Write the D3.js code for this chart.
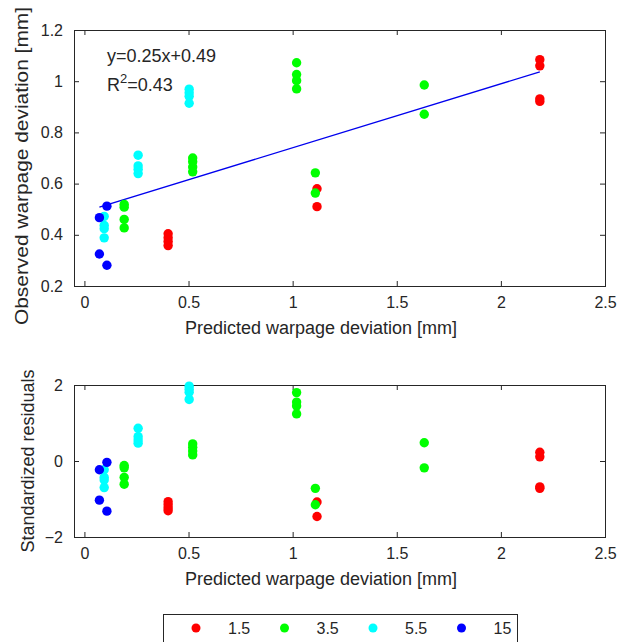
<!DOCTYPE html>
<html>
<head>
<meta charset="utf-8">
<script src="https://cdn.jsdelivr.net/npm/d3@7"></script>
<style>
  body { margin: 0; background: #fff; }
  svg { display: block; font-family: "Liberation Sans", Arial, sans-serif; }
  .axis path, .axis line { stroke: #262626; }
  .axis text { fill: #262626; font-size: 16px; font-family: "Liberation Sans", Arial, sans-serif; }
  .lbl { fill: #262626; font-size: 18px; }
</style>
</head>
<body>
<div id="chart"></div>
<script>
// --- data ---
const groups = ["1.5", "3.5", "5.5", "15"];
const groupColors = ["#ff0000", "#00ff00", "#00ffff", "#0000ff"];

// one entry per point: group index, predicted, observed, standardized residual
const grp = [
  0, 0, 0, 0, 0, 0, 0, 0, 0, 0,
  1, 1, 1, 1, 1, 1, 1, 1, 1, 1, 1, 1, 1, 1, 1, 1,
  2, 2, 2, 2, 2, 2, 2, 2, 2, 2, 2, 2,
  3, 3, 3, 3
];
const predicted = [
  0.402, 0.402, 0.402, 0.402, 1.117, 1.117, 2.187, 2.187, 2.187, 2.187,
  0.191, 0.191, 0.191, 0.191, 0.52, 0.52, 0.52, 0.52, 1.019, 1.019, 1.019, 1.019, 1.109, 1.109, 1.632, 1.632,
  0.095, 0.095, 0.095, 0.095, 0.258, 0.258, 0.258, 0.258, 0.503, 0.503, 0.503, 0.503,
  0.072, 0.072, 0.108, 0.108
];
const observed = [
  0.404, 0.388, 0.374, 0.358, 0.58, 0.51, 1.084, 1.06, 0.931, 0.921,
  0.519, 0.508, 0.46, 0.427, 0.70, 0.685, 0.665, 0.646, 1.072, 1.026, 1.002, 0.970, 0.642, 0.563, 0.985, 0.871,
  0.472, 0.437, 0.424, 0.388, 0.711, 0.669, 0.656, 0.639, 0.969, 0.955, 0.941, 0.914,
  0.467, 0.325, 0.512, 0.281
];
const residual = [
  -1.07, -1.15, -1.23, -1.31, -1.08, -1.46, 0.23, 0.11, -0.68, -0.72,
  -0.12, -0.18, -0.43, -0.61, 0.45, 0.36, 0.26, 0.16, 1.8, 1.55, 1.45, 1.24, -0.72, -1.15, 0.48, -0.18,
  -0.23, -0.43, -0.5, -0.7, 0.86, 0.64, 0.55, 0.47, 1.97, 1.89, 1.81, 1.62,
  -0.23, -1.03, -0.035, -1.32
];

const fitSlope = 0.25, fitIntercept = 0.49;
const xTicks = [0, 0.5, 1, 1.5, 2, 2.5];
const yTicksTop = [0.2, 0.4, 0.6, 0.8, 1, 1.2];
const yTicksBottom = [-2, 0, 2];

const points = predicted.map((p, i) => ({ g: grp[i], x: p, obs: observed[i], res: residual[i] }));

// --- layout ---
const W = 631, H = 642;
const left = 74, right = 605;
const top1 = { y0: 30, y1: 286 };
const bot1 = { y0: 385, y1: 537 };

const svg = d3.select("#chart").append("svg").attr("width", W).attr("height", H);

const x = d3.scaleLinear().domain([-0.05, 2.5]).range([left, right]);
const yTop = d3.scaleLinear().domain([0.2, 1.2]).range([top1.y1, top1.y0]);
const yBot = d3.scaleLinear().domain([-2, 2]).range([bot1.y1, bot1.y0]);

function drawFrame(y, box, yTicks) {
  const tk = 5;
  // bottom axis (ticks inward)
  const gx = svg.append("g").attr("class", "axis")
    .attr("transform", `translate(0,${box.y1})`)
    .call(d3.axisBottom(x).tickValues(xTicks).tickFormat(d3.format("")).tickSizeInner(-tk).tickSizeOuter(0).tickPadding(11));
  gx.select(".domain").remove();
  // top ticks
  svg.append("g").attr("class", "axis")
    .attr("transform", `translate(0,${box.y0})`)
    .call(d3.axisTop(x).tickValues(xTicks).tickFormat("").tickSizeInner(-tk).tickSizeOuter(0))
    .select(".domain").remove();
  // left axis
  const gy = svg.append("g").attr("class", "axis")
    .attr("transform", `translate(${left},0)`)
    .call(d3.axisLeft(y).tickValues(yTicks).tickFormat(d3.format("")).tickSizeInner(-tk).tickSizeOuter(0).tickPadding(11));
  gy.select(".domain").remove();
  // right ticks
  svg.append("g").attr("class", "axis")
    .attr("transform", `translate(${right},0)`)
    .call(d3.axisRight(y).tickValues(yTicks).tickFormat("").tickSizeInner(-tk).tickSizeOuter(0))
    .select(".domain").remove();
  svg.selectAll(".axis line").attr("stroke", "#262626");
  // box
  svg.append("rect")
    .attr("x", left + 0.5).attr("y", box.y0 + 0.5)
    .attr("width", right - left).attr("height", box.y1 - box.y0)
    .attr("fill", "none").attr("stroke", "#262626").attr("stroke-width", 1);
}

// --- top panel ---
drawFrame(yTop, top1, yTicksTop);

const xMin = d3.min(predicted), xMax = d3.max(predicted);
svg.append("line")
  .attr("x1", x(xMin)).attr("y1", yTop(fitSlope * xMin + fitIntercept))
  .attr("x2", x(xMax)).attr("y2", yTop(fitSlope * xMax + fitIntercept))
  .attr("stroke", "#0000ee").attr("stroke-width", 1.3);

svg.append("g").selectAll("circle")
  .data(points).enter().append("circle")
  .attr("cx", d => x(d.x)).attr("cy", d => yTop(d.obs))
  .attr("r", 4.7).attr("fill", d => groupColors[d.g]);

svg.append("text").attr("class", "lbl").attr("x", 107).attr("y", 62)
  .text(`y=${fitSlope}x+${fitIntercept}`);
const r2 = svg.append("text").attr("class", "lbl").attr("x", 107).attr("y", 91);
r2.append("tspan").text("R");
r2.append("tspan").attr("dy", -8).style("font-size", "13px").text("2");
r2.append("tspan").attr("dy", 8).text("=0.43");

svg.append("text").attr("class", "lbl").attr("text-anchor", "middle")
  .attr("x", 321).attr("y", 334)
  .text("Predicted warpage deviation [mm]");
svg.append("text").attr("class", "lbl").attr("text-anchor", "middle")
  .attr("transform", `translate(28,${(top1.y0 + top1.y1) / 2 + 8}) rotate(-90)`)
  .attr("textLength", 318).attr("lengthAdjust", "spacingAndGlyphs")
  .text("Observed warpage deviation [mm]");

// --- bottom panel ---
drawFrame(yBot, bot1, yTicksBottom);

svg.append("g").selectAll("circle")
  .data(points).enter().append("circle")
  .attr("cx", d => x(d.x)).attr("cy", d => yBot(d.res))
  .attr("r", 4.7).attr("fill", d => groupColors[d.g]);

svg.append("text").attr("class", "lbl").attr("text-anchor", "middle")
  .attr("x", 321).attr("y", 585)
  .text("Predicted warpage deviation [mm]");
svg.append("text").attr("class", "lbl").attr("text-anchor", "middle")
  .attr("transform", `translate(34,${(bot1.y0 + bot1.y1) / 2}) rotate(-90)`)
  .text("Standardized residuals");

// --- legend ---
const legX = d3.scaleBand().domain(groups).range([152, 506]);
svg.append("rect")
  .attr("x", 163.5).attr("y", 614.5).attr("width", 354).attr("height", 40)
  .attr("fill", "#fff").attr("stroke", "#262626");
const leg = svg.append("g").selectAll("g").data(groups).enter().append("g")
  .attr("transform", d => `translate(${legX(d) + 44},628)`);
leg.append("circle").attr("r", 4.5).attr("fill", (d, i) => groupColors[i]);
leg.append("text").attr("x", 32).attr("y", 6)
  .attr("fill", "#262626").style("font-size", "16px").text(d => d);
</script>
</body>
</html>
